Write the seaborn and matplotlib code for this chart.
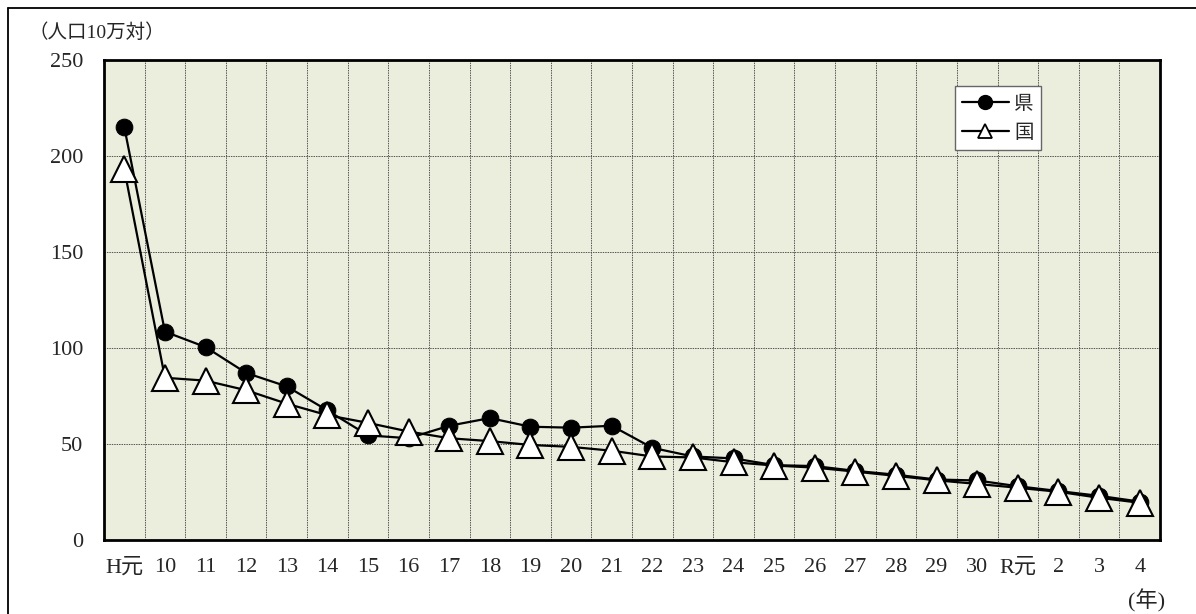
import numpy as np
import pandas as pd
import matplotlib
matplotlib.use('Agg')
import matplotlib.pyplot as plt
import seaborn as sns
from matplotlib.lines import Line2D

# categories (年)
years = ['H元', '10', '11', '12', '13', '14', '15', '16', '17', '18', '19', '20',
         '21', '22', '23', '24', '25', '26', '27', '28', '29', '30', 'R元', '2', '3', '4']
# 県 and 国 (人口10万対)
ken = [215, 108.5, 100.5, 87, 80, 67.5, 54.5, 53, 59.5, 63.5, 59, 58.5,
       59.5, 48, 43.5, 42.5, 39, 38.5, 36, 34, 31.5, 31, 28, 25.5, 23, 20]
kuni = [193, 84.5, 83, 78, 71, 65, 61, 56.5, 53, 51.5, 49.5, 48.5,
        46.5, 43.5, 43, 40.5, 38.8, 37.7, 35.6, 33.4, 31.1, 29.2, 27.2, 25.1, 22, 19.4]
yticks = [0, 50, 100, 150, 200, 250]

sns.set_style('white')
plt.rcParams['font.family'] = ['Liberation Serif', 'Noto Sans CJK JP']

df = pd.DataFrame({'pos': range(len(years)), '県': ken, '国': kuni})

W, H = 1196, 614
fig = plt.figure(figsize=(W / 100, H / 100), dpi=100)
ax = fig.add_axes([104 / W, 74 / H, 1056 / W, 480 / H])
ax.set_facecolor('#EBEEDD')

sns.lineplot(data=df, x='pos', y='県', ax=ax, errorbar=None, color='black', lw=1.6,
             marker='o', markersize=12, markerfacecolor='black',
             markeredgecolor='black', zorder=3)
sns.lineplot(data=df, x='pos', y='国', ax=ax, errorbar=None, color='black', lw=1.6,
             marker='^', markersize=18.5, markerfacecolor='white',
             markeredgecolor='black', markeredgewidth=1.5, zorder=4)

ax.set_xlim(-0.5, len(years) - 0.5)
ax.set_ylim(0, 250)
ax.set_xticks(range(len(years)))
ax.set_xticklabels(years)
ax.set_xticks(np.arange(0.5, len(years) - 1, 1), minor=True)
ax.set_yticks(yticks)
ax.set_xlabel('')
ax.set_ylabel('')
ax.grid(False)
ax.grid(axis='x', which='minor', color='#555555', lw=0.7, linestyle=(0, (1.5, 1)))
ax.grid(axis='y', which='major', color='#555555', lw=0.7, linestyle=(0, (1.5, 1)))
ax.set_axisbelow(True)
ax.tick_params(axis='both', which='both', length=0, labelsize=16)
ax.tick_params(axis='x', pad=13)
ax.tick_params(axis='y', pad=15)
for s in ax.spines.values():
    s.set_color('black')
    s.set_linewidth(2)

handles = [
    Line2D([], [], color='black', lw=1.6, marker='o', markersize=10,
           markerfacecolor='black', markeredgecolor='black'),
    Line2D([], [], color='black', lw=1.6, marker='^', markersize=10,
           markerfacecolor='white', markeredgecolor='black', markeredgewidth=1.3),
]
leg = ax.legend(handles, ['県', '国'], loc='upper left', bbox_to_anchor=(0.806, 0.945),
                frameon=True, fancybox=False, framealpha=1,
                edgecolor='#666666', handlelength=2.4, handletextpad=0.3,
                borderpad=0.35, labelspacing=0.4, borderaxespad=0,
                prop={'family': ['Noto Sans CJK JP'], 'size': 14})
leg.get_frame().set_linewidth(1.0)

fig.text(29 / W, 1 - 33 / H, '（人口10万対）', fontsize=14, ha='left', va='center')
fig.text(1147 / W, 1 - 601 / H, '(年)', fontsize=16, ha='center', va='center')

# outer frame (runs off the right and bottom edges)
fig.add_artist(Line2D([8 / W, 8 / W], [0, 1 - 8 / H], transform=fig.transFigure,
                      color='black', lw=1.3))
fig.add_artist(Line2D([8 / W, 1], [1 - 8 / H, 1 - 8 / H], transform=fig.transFigure,
                      color='black', lw=1.3))

fig.savefig('out.png', dpi=100)
